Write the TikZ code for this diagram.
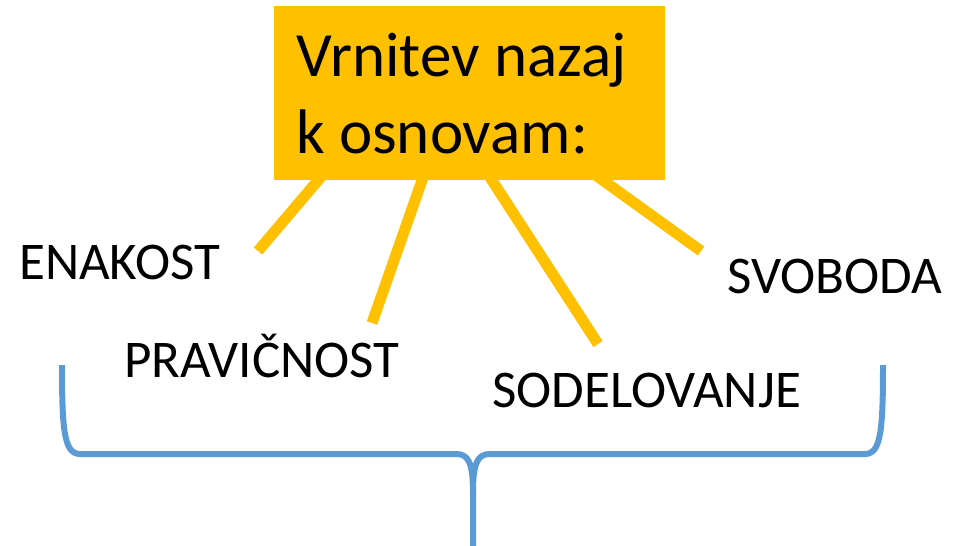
\documentclass[tikz,border=0pt]{standalone}
\usepackage{fontspec}
\setmainfont{Carlito}
\definecolor{gold}{HTML}{FFC000}
\definecolor{braceblue}{HTML}{5B9BD5}
\begin{document}
\begin{tikzpicture}[x=1pt,y=-1pt,
  ray/.style={draw=gold,line width=11pt,line cap=butt,shorten <=-10pt},
  lbl/.style={anchor=base west,inner sep=0pt,font=\fontsize{53}{60}\selectfont},
  ttl/.style={anchor=base west,inner sep=0pt,font=\fontsize{63}{76}\selectfont},
  bracestyle/.style={draw=braceblue,line width=6pt,line join=round,line cap=butt}]
\useasboundingbox (0,0) rectangle (961,546);
\node[fill=gold,draw=none,minimum width=391pt,minimum height=174pt,inner sep=0pt,anchor=north west] (box) at (274,6) {};
\node[ttl] (t1) at (296,76) {Vrnitev nazaj};
\node[ttl] (t2) at (296,153) {k osnovam:};
\coordinate (e1) at (258,251);
\coordinate (e2) at (372,323);
\coordinate (e3) at (598,344);
\coordinate (e4) at (701,251);
\draw[ray] ([xshift=44pt]box.south west) -- (e1);
\draw[ray] ([xshift=148pt]box.south west) -- (e2);
\draw[ray] ([xshift=218pt]box.south west) -- (e3);
\draw[ray] ([xshift=329pt]box.south west) -- (e4);
\node[lbl] (enakost) at (19,279) {ENAKOST};
\node[lbl] (pravicnost) at (124,377) {PRAVIČNOST};
\node[lbl] (sodelovanje) at (492,407) {SODELOVANJE};
\node[lbl] (svoboda) at (727,293) {SVOBODA};
\coordinate (bl) at (62,365);
\coordinate (br) at (883,365);
\coordinate (tip) at (473,546);
\draw[bracestyle] (bl) .. controls (62,430) and (64,454) .. (80,454) -- (456,454)
  .. controls (468,454) and (473,462) .. (473,492) -- (tip);
\draw[bracestyle] (br) .. controls (883,430) and (881,454) .. (865,454) -- (490,454)
  .. controls (478,454) and (473,462) .. (473,492);
\end{tikzpicture}
\end{document}
